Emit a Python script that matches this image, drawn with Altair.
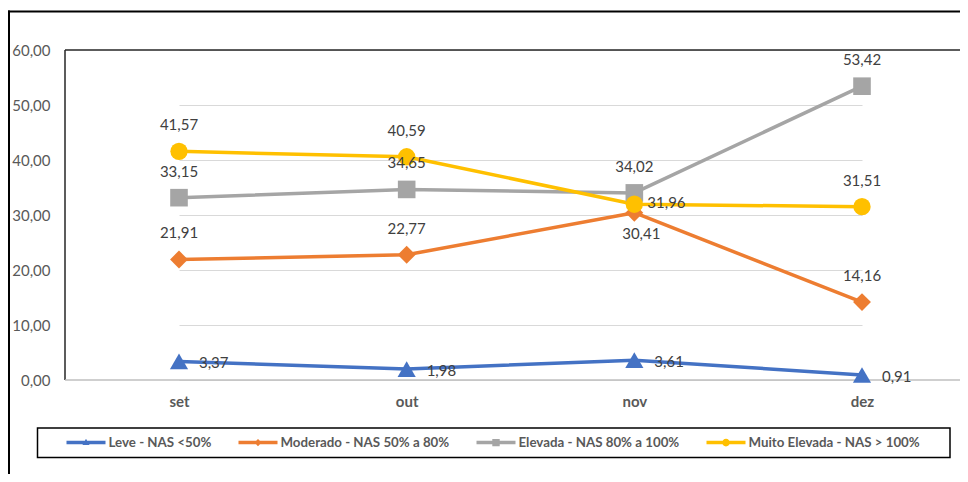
import altair as alt
import pandas as pd

# ---------------- data ----------------
months = ["set", "out", "nov", "dez"]
series_names = [
    "Leve - NAS <50%",
    "Moderado - NAS 50% a 80%",
    "Elevada - NAS 80% a 100%",
    "Muito Elevada - NAS > 100%",
]
leve = [3.37, 1.98, 3.61, 0.91]
moderado = [21.91, 22.77, 30.41, 14.16]
elevada = [33.15, 34.65, 34.02, 53.42]
muito_elevada = [41.57, 40.59, 31.96, 31.51]
y_ticks = [0, 10, 20, 30, 40, 50, 60]

# ---------------- styles ----------------
colors = ["#4472C4", "#ED7D31", "#A5A5A5", "#FFC000"]
shapes = ["triangle-up", "diamond", "square", "circle"]
marker_sizes = [330, 300, 320, 310]
FONT = "Lato"

# legend symbols: line sample + small marker (unit square -1..1)
_line = "M-1,-0.09H1V0.09H-1Z "
legend_paths = [
    _line + "M0,-0.2L0.18,0.12L-0.18,0.12Z",
    _line + "M0,-0.19L0.19,0L0,0.19L-0.19,0Z",
    _line + "M-0.19,-0.19H0.19V0.19H-0.19Z",
    _line + "M0.2,0A0.2,0.2,0,1,1,-0.2,0A0.2,0.2,0,1,1,0.2,0Z",
]

# label placement per point (default: above)
placement = {}
for m in months:
    placement[(series_names[0], m)] = "right"
placement[(series_names[1], "nov")] = "below"
placement[(series_names[3], "nov")] = "right_near"
place_style = {
    "above": dict(dx=0, dy=-26, align="center"),
    "below": dict(dx=7, dy=21, align="center"),
    "right": dict(dx=20, dy=2, align="left"),
    "right_near": dict(dx=13, dy=-1.5, align="left"),
}

values = [leve, moderado, elevada, muito_elevada]
rows = []
for s, vals in zip(series_names, values):
    for m, v in zip(months, vals):
        rows.append(
            dict(
                month=m,
                series=s,
                value=v,
                label=f"{v:.2f}".replace(".", ","),
                pos=placement.get((s, m), "above"),
            )
        )
df = pd.DataFrame(rows)
one = pd.DataFrame({"k": [0]})

W, H = 895, 330
PAD_BOTTOM = 94

x_enc = alt.X(
    "month:N",
    sort=months,
    scale=alt.Scale(type="point", range=[114, 797], padding=0),
    axis=alt.Axis(
        title=None,
        domain=False,
        ticks=False,
        grid=False,
        labelAngle=0,
        labelFont=FONT,
        labelFontSize=15,
        labelFontWeight="bold",
        labelColor="#595959",
        labelPadding=14,
    ),
)
y_enc = alt.Y(
    "value:Q",
    scale=alt.Scale(domain=[0, 60], nice=False, zero=True),
    axis=alt.Axis(
        title=None,
        values=y_ticks,
        domain=False,
        ticks=False,
        grid=True,
        gridColor="#D9D9D9",
        gridWidth=1,
        labelFont=FONT,
        labelFontSize=15,
        labelColor="#595959",
        labelPadding=15,
        labelExpr="replace(format(datum.value, '.2f'), '.', ',')",
    ),
)

color_scale = alt.Scale(domain=series_names, range=colors)

# decorations: outer chart frame (left + top visible), plot frame, legend box
outer_left = alt.Chart(one).mark_rule(color="black", strokeWidth=2).encode(
    x=alt.value(-56), y=alt.value(-39.5), y2=alt.value(H + PAD_BOTTOM)
)
outer_top = alt.Chart(one).mark_rule(color="black", strokeWidth=2).encode(
    x=alt.value(-57), x2=alt.value(W), y=alt.value(-38.5)
)
legend_box = alt.Chart(one).mark_rect(fillOpacity=0, stroke="black", strokeWidth=1.5).encode(
    x=alt.value(-27.5), x2=alt.value(885), y=alt.value(378), y2=alt.value(407.5)
)
plot_top = alt.Chart(one).mark_rule(color="#262626", strokeWidth=1.5).encode(
    x=alt.value(0), x2=alt.value(W), y=alt.value(0)
)
plot_left = alt.Chart(one).mark_rule(color="#262626", strokeWidth=1.5).encode(
    x=alt.value(0), y=alt.value(0), y2=alt.value(H)
)
bottom_line = alt.Chart(one).mark_rule(color="#BFBFBF", strokeWidth=1.5).encode(
    x=alt.value(0), x2=alt.value(W), y=alt.value(H)
)

base = alt.Chart(df).encode(x=x_enc, y=y_enc)

lines = base.mark_line(strokeWidth=3.5, strokeCap="round", strokeJoin="round").encode(
    color=alt.Color("series:N", scale=color_scale, legend=None),
    detail="series:N",
)
points = base.mark_point(filled=True, opacity=1).encode(
    color=alt.Color("series:N", scale=color_scale, legend=None),
    shape=alt.Shape("series:N", scale=alt.Scale(domain=series_names, range=shapes), legend=None),
    size=alt.Size("series:N", scale=alt.Scale(domain=series_names, range=marker_sizes), legend=None),
)

label_layers = []
for pname, st in place_style.items():
    label_layers.append(
        base.transform_filter(alt.datum.pos == pname)
        .mark_text(
            font=FONT,
            fontSize=15,
            color="#404040",
            baseline="middle",
            align=st["align"],
            dx=st["dx"],
            dy=st["dy"],
        )
        .encode(text="label:N")
    )

leg = alt.Legend(
    title=None,
    orient="none",
    legendX=1.5,
    legendY=373,
    direction="horizontal",
    columns=4,
    symbolSize=1521,
    symbolStrokeWidth=0,
    labelFont=FONT,
    labelFontSize=13.3,
    labelFontWeight="bold",
    labelColor="#595959",
    labelOffset=3,
    labelLimit=400,
    columnPadding=27,
    padding=0,
)
legend_layer = (
    alt.Chart(df)
    .transform_filter("false")
    .mark_point(filled=True, opacity=1)
    .encode(
        color=alt.Color("series:N", scale=color_scale, legend=leg),
        shape=alt.Shape("series:N", scale=alt.Scale(domain=series_names, range=legend_paths), legend=leg),
    )
)

chart = (
    alt.layer(
        outer_left,
        outer_top,
        legend_box,
        plot_top,
        plot_left,
        bottom_line,
        lines,
        points,
        *label_layers,
        legend_layer,
    )
    .resolve_scale(color="independent", shape="independent", size="independent")
    .properties(
        width=W,
        height=H,
        autosize=alt.AutoSizeParams(type="none"),
        padding={"left": 57, "top": 42, "right": 0, "bottom": PAD_BOTTOM},
        background="white",
    )
    .configure_view(stroke=None)
)

chart.save("out.html", embed_options={"renderer": "svg", "actions": False})
